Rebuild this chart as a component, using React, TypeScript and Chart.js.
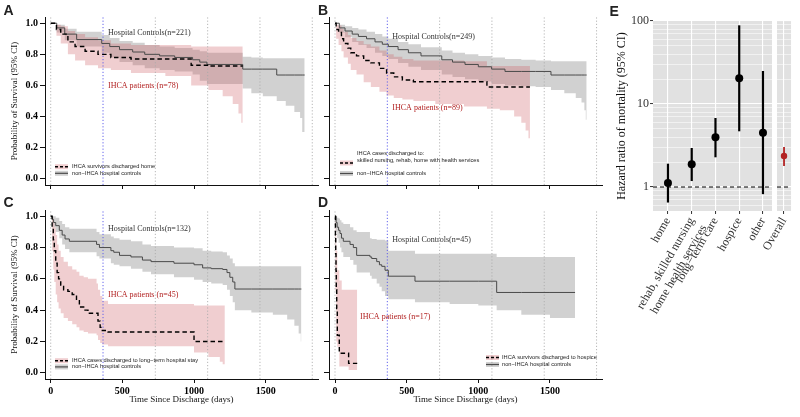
import React, { useEffect, useRef } from 'react';
import { Chart, registerables } from 'chart.js';

Chart.register(...registerables);

const SERIF = '"Liberation Serif", "Times New Roman", Times, serif';
const SANS = '"Liberation Sans", Arial, Helvetica, sans-serif';

const PINK = 'rgba(205, 92, 100, 0.30)';
const GREY = 'rgba(140, 140, 140, 0.40)';
const RED = '#B22222';

// ---------- Kaplan–Meier axes ----------
const xTicks = [0, 500, 1000, 1500];
const yTicks = [0, 0.2, 0.4, 0.6, 0.8, 1.0];
const yearLines = [0, 365, 730, 1095, 1460, 1825];

// ---------- Panel A ----------
const aCtrlT = [0, 42, 98, 181, 356, 412, 480, 572, 656, 760, 865, 990, 1040, 1090, 1340, 1400, 1480, 1577, 1640, 1700, 1740, 1755, 1772];
const aCtrlS = [1.0, 0.97, 0.93, 0.895, 0.87, 0.85, 0.83, 0.815, 0.80, 0.79, 0.78, 0.765, 0.75, 0.735, 0.705, 0.705, 0.705, 0.667, 0.667, 0.667, 0.667, 0.667, 0.667];
const aCtrlU = [1.0, 0.99, 0.965, 0.945, 0.925, 0.905, 0.885, 0.875, 0.86, 0.85, 0.84, 0.83, 0.82, 0.81, 0.785, 0.78, 0.775, 0.775, 0.775, 0.775, 0.775, 0.775, 0.775];
const aCtrlL = [1.0, 0.94, 0.89, 0.85, 0.81, 0.78, 0.75, 0.73, 0.71, 0.70, 0.69, 0.67, 0.63, 0.61, 0.58, 0.55, 0.53, 0.50, 0.47, 0.43, 0.39, 0.30, 0.30];
const aIhcaT = [0, 40, 70, 120, 170, 240, 330, 420, 560, 800, 980, 1100, 1200, 1270, 1310, 1330, 1340];
const aIhcaS = [1.0, 0.96, 0.93, 0.88, 0.85, 0.82, 0.80, 0.78, 0.77, 0.77, 0.73, 0.725, 0.725, 0.725, 0.725, 0.725, 0.725];
const aIhcaU = [1.0, 0.99, 0.98, 0.95, 0.93, 0.91, 0.89, 0.87, 0.86, 0.86, 0.85, 0.85, 0.85, 0.85, 0.85, 0.85, 0.85];
const aIhcaL = [1.0, 0.92, 0.87, 0.80, 0.76, 0.73, 0.71, 0.70, 0.68, 0.66, 0.60, 0.57, 0.53, 0.48, 0.42, 0.36, 0.36];

// ---------- Panel B ----------
const bCtrlT = [0, 30, 70, 120, 163, 220, 279, 330, 372, 440, 512, 600, 745, 820, 907, 1000, 1093, 1186, 1300, 1400, 1507, 1600, 1680, 1720, 1740, 1750, 1756];
const bCtrlS = [1.0, 0.97, 0.95, 0.93, 0.915, 0.90, 0.88, 0.865, 0.85, 0.83, 0.81, 0.79, 0.765, 0.75, 0.735, 0.72, 0.705, 0.69, 0.69, 0.69, 0.667, 0.667, 0.667, 0.667, 0.667, 0.667, 0.667];
const bCtrlU = [1.0, 0.99, 0.98, 0.97, 0.96, 0.945, 0.93, 0.915, 0.90, 0.88, 0.865, 0.845, 0.825, 0.81, 0.80, 0.79, 0.78, 0.77, 0.765, 0.76, 0.755, 0.755, 0.755, 0.755, 0.755, 0.755, 0.755];
const bCtrlL = [1.0, 0.94, 0.91, 0.88, 0.86, 0.84, 0.81, 0.79, 0.77, 0.745, 0.72, 0.70, 0.67, 0.655, 0.64, 0.625, 0.61, 0.60, 0.595, 0.59, 0.57, 0.55, 0.52, 0.49, 0.44, 0.38, 0.38];
const bIhcaT = [0, 8, 25, 45, 60, 90, 110, 150, 200, 250, 310, 360, 410, 470, 547, 700, 900, 1060, 1150, 1250, 1300, 1330, 1350, 1360];
const bIhcaS = [1.0, 0.96, 0.94, 0.90, 0.87, 0.84, 0.81, 0.79, 0.76, 0.745, 0.71, 0.68, 0.655, 0.635, 0.624, 0.624, 0.624, 0.59, 0.59, 0.59, 0.59, 0.59, 0.59, 0.59];
const bIhcaU = [1.0, 0.99, 0.985, 0.965, 0.945, 0.925, 0.905, 0.885, 0.865, 0.85, 0.825, 0.80, 0.785, 0.77, 0.76, 0.76, 0.755, 0.725, 0.725, 0.725, 0.725, 0.725, 0.725, 0.725];
const bIhcaL = [1.0, 0.90, 0.86, 0.82, 0.78, 0.74, 0.70, 0.67, 0.62, 0.59, 0.56, 0.535, 0.52, 0.51, 0.50, 0.48, 0.465, 0.45, 0.44, 0.40, 0.36, 0.31, 0.26, 0.26];

// ---------- Panel C ----------
const cCtrlT = [0, 10, 20, 35, 60, 80, 100, 130, 320, 340, 420, 440, 480, 560, 640, 700, 860, 1000, 1060, 1120, 1200, 1230, 1250, 1270, 1285, 1400, 1550, 1650, 1700, 1730, 1745, 1749];
const cCtrlS = [1.0, 0.98, 0.96, 0.94, 0.91, 0.88, 0.855, 0.84, 0.82, 0.80, 0.78, 0.77, 0.75, 0.74, 0.72, 0.71, 0.70, 0.69, 0.67, 0.665, 0.66, 0.64, 0.61, 0.58, 0.535, 0.535, 0.535, 0.535, 0.535, 0.535, 0.535, 0.535];
const cCtrlU = [1.0, 1.0, 1.0, 0.99, 0.97, 0.95, 0.93, 0.92, 0.90, 0.885, 0.87, 0.86, 0.85, 0.84, 0.82, 0.81, 0.80, 0.795, 0.78, 0.775, 0.77, 0.75, 0.73, 0.70, 0.68, 0.68, 0.68, 0.68, 0.68, 0.68, 0.68, 0.68];
const cCtrlL = [1.0, 0.96, 0.93, 0.90, 0.86, 0.82, 0.79, 0.77, 0.745, 0.73, 0.70, 0.69, 0.68, 0.665, 0.645, 0.63, 0.61, 0.595, 0.58, 0.57, 0.56, 0.53, 0.49, 0.45, 0.40, 0.385, 0.37, 0.34, 0.30, 0.25, 0.20, 0.20];
const cIhcaT = [0, 10, 18, 25, 35, 45, 55, 70, 90, 120, 150, 180, 200, 230, 260, 320, 330, 345, 360, 400, 1000, 1100, 1180, 1200, 1215];
const cIhcaS = [1.0, 0.93, 0.85, 0.78, 0.70, 0.64, 0.60, 0.56, 0.53, 0.52, 0.50, 0.46, 0.42, 0.40, 0.38, 0.38, 0.33, 0.29, 0.27, 0.26, 0.20, 0.20, 0.20, 0.20, 0.20];
const cIhcaU = [1.0, 0.99, 0.96, 0.93, 0.88, 0.82, 0.78, 0.74, 0.71, 0.68, 0.66, 0.645, 0.62, 0.61, 0.60, 0.57, 0.53, 0.49, 0.46, 0.44, 0.43, 0.43, 0.43, 0.43, 0.43];
const cIhcaL = [1.0, 0.78, 0.66, 0.58, 0.50, 0.45, 0.41, 0.38, 0.35, 0.33, 0.31, 0.29, 0.27, 0.26, 0.25, 0.24, 0.21, 0.19, 0.18, 0.17, 0.13, 0.10, 0.07, 0.055, 0.055];

// ---------- Panel D ----------
const dCtrlT = [0, 8, 15, 25, 35, 45, 58, 105, 128, 151, 244, 256, 291, 310, 326, 349, 372, 558, 800, 1000, 1128, 1300, 1500, 1675];
const dCtrlS = [1.0, 0.96, 0.93, 0.91, 0.89, 0.86, 0.84, 0.82, 0.80, 0.75, 0.74, 0.73, 0.71, 0.69, 0.68, 0.655, 0.617, 0.585, 0.585, 0.585, 0.513, 0.513, 0.513, 0.513];
const dCtrlU = [1.0, 1.0, 0.99, 0.985, 0.975, 0.96, 0.95, 0.93, 0.91, 0.90, 0.86, 0.855, 0.85, 0.85, 0.85, 0.845, 0.78, 0.76, 0.76, 0.76, 0.74, 0.74, 0.74, 0.74];
const dCtrlL = [1.0, 0.90, 0.86, 0.83, 0.80, 0.77, 0.74, 0.72, 0.69, 0.64, 0.62, 0.60, 0.57, 0.55, 0.52, 0.49, 0.47, 0.45, 0.44, 0.43, 0.40, 0.37, 0.35, 0.32];
const dIhcaT = [0, 3, 5, 7, 9, 12, 16, 30, 47, 95, 155];
const dIhcaS = [1.0, 0.88, 0.76, 0.65, 0.53, 0.41, 0.24, 0.125, 0.125, 0.06, 0.06];
const dIhcaU = [1.0, 0.995, 0.97, 0.93, 0.88, 0.78, 0.655, 0.59, 0.53, 0.53, 0.53];
const dIhcaL = [1.0, 0.65, 0.52, 0.40, 0.28, 0.20, 0.166, 0.04, 0.04, 0.017, 0.017];

// ---------- Panel E (hazard ratios) ----------
const eCategories: any[] = ['home', ['rehab, skilled nursing', 'home health services'], 'long−term care', 'hospice', 'other'];
const eHR = [1.12, 1.88, 3.97, 20.4, 4.52];
const eLower = [0.65, 1.18, 2.28, 4.69, 0.82];
const eUpper = [1.91, 2.95, 6.78, 88.7, 25.0];
const overallCategories: any[] = ['Overall'];
const overallHR = [2.36];
const overallLower = [1.79];
const overallUpper = [3.03];
const hrTickLabels = [1, 10, 100];
const hrGrid = [0.6, 0.7, 0.8, 0.9, 1, 2, 3, 4, 5, 6, 7, 8, 9, 10, 20, 30, 40, 50, 60, 70, 80, 90, 100];

// ---------- helpers ----------
function decor(cfg: any) {
  return {
    id: 'decor',
    beforeDraw(chart: any) {
      if (!cfg.bg) return;
      const a = chart.chartArea;
      const c = chart.ctx;
      c.save();
      c.fillStyle = cfg.bg;
      c.fillRect(a.left, a.top, a.right - a.left, a.bottom - a.top);
      c.restore();
    },
    afterDraw(chart: any) {
      const c = chart.ctx;
      const xs = chart.scales.x;
      const ys = chart.scales.y;
      c.save();
      (cfg.swatches || []).forEach((s: any) => {
        c.fillStyle = s.kind === 'ihca' ? PINK : GREY;
        c.fillRect(s.x, s.y - 2.5, 13, 5);
        c.beginPath();
        c.strokeStyle = s.kind === 'ihca' ? '#000' : '#4a4a4a';
        c.lineWidth = s.kind === 'ihca' ? 1.4 : 1.2;
        c.setLineDash(s.kind === 'ihca' ? [3, 2] : []);
        c.moveTo(s.x, s.y);
        c.lineTo(s.x + 13, s.y);
        c.stroke();
        c.setLineDash([]);
      });
      (cfg.texts || []).forEach((t: any) => {
        c.font = t.font;
        c.fillStyle = t.color || '#000';
        c.textAlign = t.align || 'left';
        c.textBaseline = t.baseline || 'middle';
        const px = t.px !== undefined ? t.px : xs.getPixelForValue(t.x);
        const py = t.py !== undefined ? t.py : ys.getPixelForValue(t.y);
        c.fillText(t.text, px, py);
      });
      c.restore();
    },
  };
}

const pts = (t: number[], v: number[]) => t.map((x, i) => ({ x, y: v[i] }));
// explicit step-function vertices (value v[i] holds from t[i] until t[i+1])
const stepPts = (t: number[], v: number[]) => {
  const out: any[] = [{ x: t[0], y: v[0] }];
  for (let i = 1; i < t.length; i++) {
    out.push({ x: t[i], y: v[i - 1] });
    out.push({ x: t[i], y: v[i] });
  }
  return out;
};

function kmConfig(o: any) {
  const step = { stepped: true, pointRadius: 0, pointHoverRadius: 0, tension: 0 };
  const band = { pointRadius: 0, pointHoverRadius: 0, tension: 0, borderColor: 'rgba(0,0,0,0)', borderWidth: 1 };
  return {
    type: 'line',
    data: {
      datasets: [
        { ...step, data: pts(o.ihca[0], o.ihca[1]), borderColor: '#000', borderWidth: 1.4, borderDash: [4.5, 3], fill: false },
        { ...step, data: pts(o.ctrl[0], o.ctrl[1]), borderColor: '#4a4a4a', borderWidth: 1, fill: false },
        ...yearLines.map((d) => ({
          pointRadius: 0,
          data: [{ x: d, y: -0.04 }, { x: d, y: 1.04 }],
          borderColor: d === 365 ? 'rgba(90,90,235,0.95)' : 'rgba(170,170,170,0.85)',
          borderWidth: 1,
          borderDash: [1.2, 2],
          fill: false,
        })),
        { ...band, data: stepPts(o.ihca[0], o.ihca[2]), backgroundColor: PINK, fill: '+1' },
        { ...band, data: stepPts(o.ihca[0], o.ihca[3]), fill: false },
        { ...band, data: stepPts(o.ctrl[0], o.ctrl[2]), backgroundColor: GREY, fill: '+1' },
        { ...band, data: stepPts(o.ctrl[0], o.ctrl[3]), fill: false },
      ],
    },
    options: {
      animation: false,
      responsive: false,
      maintainAspectRatio: false,
      events: [],
      layout: { padding: o.padding },
      plugins: {
        legend: { display: false },
        tooltip: { enabled: false },
        filler: { drawTime: 'beforeDatasetsDraw', propagate: false },
      },
      scales: {
        x: {
          type: 'linear',
          min: o.xMin,
          max: o.xMax,
          afterBuildTicks: (s: any) => { s.ticks = xTicks.map((v) => ({ value: v })); },
          afterFit: (s: any) => { s.height = o.xHeight; },
          grid: { drawOnChartArea: false, drawTicks: true, tickLength: 4, tickColor: '#111', tickWidth: 1 },
          border: { display: true, color: '#111', width: 1 },
          ticks: {
            display: o.showX,
            autoSkip: false,
            maxRotation: 0,
            padding: 2,
            color: '#000',
            font: { family: SERIF, size: 10, weight: 'bold' },
            callback: (v: any) => String(v),
          },
          title: {
            display: o.showX,
            text: 'Time Since Discharge (days)',
            color: '#111',
            font: { family: SERIF, size: 9 },
            padding: { top: 0, bottom: 3.6 },
          },
        },
        y: {
          type: 'linear',
          min: -0.04,
          max: 1.04,
          afterBuildTicks: (s: any) => { s.ticks = yTicks.map((v) => ({ value: v })); },
          afterFit: (s: any) => { s.width = o.yWidth; },
          grid: { drawOnChartArea: false, drawTicks: true, tickLength: 5, tickColor: '#111', tickWidth: 1 },
          border: { display: true, color: '#111', width: 1 },
          ticks: {
            display: o.showY,
            autoSkip: false,
            padding: 2,
            color: '#000',
            font: { family: SERIF, size: 10, weight: 'bold' },
            callback: (v: any) => Number(v).toFixed(1),
          },
          title: {
            display: o.showY,
            text: 'Probability of Survival (95% CI)',
            color: '#111',
            font: { family: SERIF, size: 9 },
            padding: { top: 9.6, bottom: 0 },
          },
        },
      },
    },
    plugins: [decor(o.decor)],
  };
}

const isMajor = (v: any) => hrTickLabels.some((m) => Math.abs(m - v) < 1e-9);

function hrConfig(o: any) {
  return {
    type: 'line',
    data: {
      datasets: [
        {
          data: o.cats.map((_: any, i: number) => ({ x: i + 1, y: o.hr[i] })),
          showLine: false,
          pointRadius: o.r,
          pointBackgroundColor: o.color,
          pointBorderColor: o.color,
          pointBorderWidth: 0,
        },
        ...o.cats.map((_: any, i: number) => ({
          data: [{ x: i + 1, y: o.lo[i] }, { x: i + 1, y: o.hi[i] }],
          borderColor: o.color,
          borderWidth: o.bw,
          pointRadius: 0,
          fill: false,
        })),
        {
          data: [{ x: o.xMin, y: 1 }, { x: o.xMax, y: 1 }],
          borderColor: '#000',
          borderWidth: 1,
          borderDash: [4, 3],
          pointRadius: 0,
          fill: false,
        },
      ],
    },
    options: {
      animation: false,
      responsive: false,
      maintainAspectRatio: false,
      events: [],
      layout: { padding: o.padding },
      plugins: { legend: { display: false }, tooltip: { enabled: false } },
      scales: {
        x: {
          type: 'linear',
          min: o.xMin,
          max: o.xMax,
          afterBuildTicks: (s: any) => { s.ticks = o.cats.map((_: any, i: number) => ({ value: i + 1 })); },
          afterFit: (s: any) => { s.height = 206; },
          grid: { color: '#fff', lineWidth: 1.1, drawTicks: true, tickLength: 3, tickColor: '#333', tickWidth: 1 },
          border: { display: false },
          ticks: {
            autoSkip: false,
            minRotation: 60,
            maxRotation: 60,
            padding: 1,
            color: '#333',
            font: { family: SERIF, size: 12 },
            callback: (v: any) => o.cats[Math.round(v) - 1] ?? '',
          },
        },
        y: {
          type: 'logarithmic',
          min: 0.514,
          max: 100,
          afterBuildTicks: (s: any) => { s.ticks = hrGrid.map((v) => ({ value: v })); },
          afterFit: (s: any) => { s.width = o.yWidth; },
          grid: {
            color: '#fff',
            lineWidth: (c: any) => (isMajor(c.tick && c.tick.value) ? 1.1 : 0.55),
            drawTicks: o.showY,
            tickLength: 3,
            tickWidth: 1,
            tickColor: (c: any) => (isMajor(c.tick && c.tick.value) ? '#333' : 'rgba(0,0,0,0)'),
          },
          border: { display: false },
          ticks: {
            display: o.showY,
            autoSkip: false,
            padding: 1,
            color: '#333',
            font: { family: SERIF, size: 12 },
            callback: (v: any) => (isMajor(v) ? String(v) : ''),
          },
          title: {
            display: o.showY,
            text: 'Hazard ratio of mortality (95% CI)',
            color: '#111',
            font: { family: SERIF, size: 12 },
            padding: { top: 14.5, bottom: 0 },
          },
        },
      },
    },
    plugins: [decor({ bg: '#E1E1E1', texts: o.texts || [] })],
  };
}

const LETTER = `bold 14px ${SANS}`;
const NOTE = `8px ${SERIF}`;
const LEG = `5.7px ${SANS}`;

function buildConfigs() {
  const A = kmConfig({
    ctrl: [aCtrlT, aCtrlS, aCtrlU, aCtrlL],
    ihca: [aIhcaT, aIhcaS, aIhcaU, aIhcaL],
    xMin: -39.8, xMax: 1865,
    padding: { left: 0, top: 17, right: 482, bottom: 226 },
    yWidth: 45, xHeight: 6, showX: false, showY: true,
    decor: {
      texts: [
        { text: 'A', px: 3.5, py: 15, font: LETTER, color: '#222', baseline: 'alphabetic' },
        { text: 'Hospital Controls(n=221)', x: 400, y: 0.94, font: NOTE, color: '#333' },
        { text: 'IHCA patients (n=78)', x: 400, y: 0.60, font: NOTE, color: RED },
        { text: 'IHCA survivors discharged home', px: 72, py: 166.7, font: LEG, color: '#222' },
        { text: 'non−IHCA hospital controls', px: 72, py: 173.3, font: LEG, color: '#222' },
      ],
      swatches: [{ kind: 'ihca', x: 55, y: 166.7 }, { kind: 'ctrl', x: 55, y: 173.3 }],
    },
  });
  const B = kmConfig({
    ctrl: [bCtrlT, bCtrlS, bCtrlU, bCtrlL],
    ihca: [bIhcaT, bIhcaS, bIhcaU, bIhcaL],
    xMin: -41.9, xMax: 1863,
    padding: { left: 319, top: 17, right: 198, bottom: 226 },
    yWidth: 10, xHeight: 6, showX: false, showY: false,
    decor: {
      texts: [
        { text: 'B', px: 318, py: 15, font: LETTER, color: '#222', baseline: 'alphabetic' },
        { text: 'Hospital Controls(n=249)', x: 400, y: 0.91, font: NOTE, color: '#333' },
        { text: 'IHCA patients (n=89)', x: 400, y: 0.455, font: NOTE, color: RED },
        { text: 'IHCA cases discharged to:', px: 357, py: 153, font: LEG, color: '#222' },
        { text: 'skilled nursing, rehab, home with health services', px: 357, py: 160.3, font: LEG, color: '#222' },
        { text: 'non−IHCA hospital controls', px: 357, py: 173.5, font: LEG, color: '#222' },
      ],
      swatches: [{ kind: 'ihca', x: 340, y: 163 }, { kind: 'ctrl', x: 340, y: 173.5 }],
    },
  });
  const C = kmConfig({
    ctrl: [cCtrlT, cCtrlS, cCtrlU, cCtrlL],
    ihca: [cIhcaT, cIhcaS, cIhcaU, cIhcaL],
    xMin: -39.8, xMax: 1865,
    padding: { left: 0, top: 210, right: 482, bottom: 8 },
    yWidth: 45, xHeight: 30, showX: true, showY: true,
    decor: {
      texts: [
        { text: 'C', px: 3.5, py: 206.5, font: LETTER, color: '#222', baseline: 'alphabetic' },
        { text: 'Hospital Controls(n=132)', x: 400, y: 0.917, font: NOTE, color: '#333' },
        { text: 'IHCA patients (n=45)', x: 400, y: 0.496, font: NOTE, color: RED },
        { text: 'IHCA cases discharged to long−term hospital stay', px: 72, py: 360.7, font: LEG, color: '#222' },
        { text: 'non−IHCA hospital controls', px: 72, py: 366.9, font: LEG, color: '#222' },
      ],
      swatches: [{ kind: 'ihca', x: 55, y: 360.7 }, { kind: 'ctrl', x: 55, y: 366.9 }],
    },
  });
  const D = kmConfig({
    ctrl: [dCtrlT, dCtrlS, dCtrlU, dCtrlL],
    ihca: [dIhcaT, dIhcaS, dIhcaU, dIhcaL],
    xMin: -41.9, xMax: 1863,
    padding: { left: 319, top: 210, right: 198, bottom: 8 },
    yWidth: 10, xHeight: 30, showX: true, showY: false,
    decor: {
      texts: [
        { text: 'D', px: 318, py: 207, font: LETTER, color: '#222', baseline: 'alphabetic' },
        { text: 'Hospital Controls(n=45)', x: 400, y: 0.847, font: NOTE, color: '#333' },
        { text: 'IHCA patients (n=17)', x: 175, y: 0.356, font: NOTE, color: RED },
        { text: 'IHCA survivors discharged to hospice', px: 502, py: 357.5, font: LEG, color: '#222' },
        { text: 'non−IHCA hospital controls', px: 502, py: 364.5, font: LEG, color: '#222' },
      ],
      swatches: [{ kind: 'ihca', x: 486, y: 357.5 }, { kind: 'ctrl', x: 486, y: 364.5 }],
    },
  });
  const E = hrConfig({
    cats: eCategories, hr: eHR, lo: eLower, hi: eUpper,
    color: '#000', r: 4, bw: 2.2,
    xMin: 0.37, xMax: 5.38,
    padding: { left: 600, top: 21, right: 28, bottom: 0 },
    yWidth: 53, showY: true,
    texts: [{ text: 'E', px: 609.5, py: 15.5, font: LETTER, color: '#222', baseline: 'alphabetic' }],
  });
  const E2 = hrConfig({
    cats: overallCategories, hr: overallHR, lo: overallLower, hi: overallUpper,
    color: RED, r: 3.2, bw: 1.8,
    xMin: 0.4, xMax: 1.6,
    padding: { left: 777, top: 21, right: 5, bottom: 0 },
    yWidth: 0, showY: false,
  });
  return [A, B, C, D, E, E2];
}

export default function App() {
  const r0 = useRef<HTMLCanvasElement>(null);
  const r1 = useRef<HTMLCanvasElement>(null);
  const r2 = useRef<HTMLCanvasElement>(null);
  const r3 = useRef<HTMLCanvasElement>(null);
  const r4 = useRef<HTMLCanvasElement>(null);
  const r5 = useRef<HTMLCanvasElement>(null);
  const refs = [r0, r1, r2, r3, r4, r5];

  useEffect(() => {
    const cfgs = buildConfigs();
    const charts = cfgs.map((c, i) => new Chart(refs[i].current as HTMLCanvasElement, c as any));
    return () => charts.forEach((c) => c.destroy());
  }, []);

  return (
    <div style={{ position: 'absolute', left: 0, top: 0, width: 800, height: 417, background: '#fff', overflow: 'hidden' }}>
      {refs.map((r, i) => (
        <canvas key={i} ref={r} width={800} height={417} style={{ position: 'absolute', left: 0, top: 0, width: 800, height: 417 }} />
      ))}
    </div>
  );
}
